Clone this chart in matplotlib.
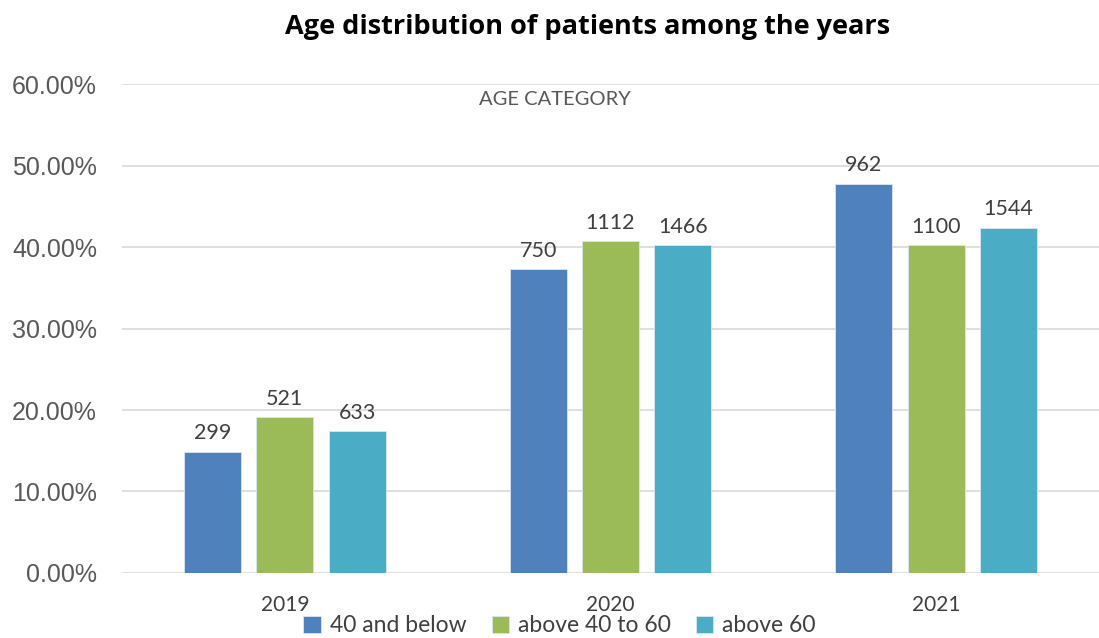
import numpy as np
import matplotlib.pyplot as plt

years = ["2019", "2020", "2021"]
groups = ["40 and below", "above 40 to 60", "above 60"]
# share of each age group per year (%)
pct_below40 = [14.9, 37.3, 47.8]
pct_40to60 = [19.1, 40.7, 40.2]
pct_above60 = [17.4, 40.2, 42.4]
# patient counts shown above the bars
cnt_below40 = [299, 750, 962]
cnt_40to60 = [521, 1112, 1100]
cnt_above60 = [633, 1466, 1544]

colors = ["#4F81BD", "#9BBB59", "#4BACC6"]

fig = plt.figure(figsize=(10.99, 6.38), dpi=100)
ax = fig.add_axes([0.111, 0.102, 0.889, 0.766])

x = np.arange(len(years))
width = 0.175
step = 0.222
series = [(pct_below40, cnt_below40), (pct_40to60, cnt_40to60), (pct_above60, cnt_above60)]
for k, (vals, cnts) in enumerate(series):
    pos = x + (k - 1) * step
    bars = ax.bar(pos, vals, width, color=colors[k], edgecolor="#dce6f2",
                  linewidth=0.6, label=groups[k], zorder=3)
    for b, c in zip(bars, cnts):
        ax.text(b.get_x() + b.get_width() / 2, b.get_height() + 1.0, str(c),
                ha="center", va="bottom", fontsize=15.5, family="Lato",
                color="#404040")

ax.set_xlim(-0.5, 2.5)
ax.set_ylim(0, 60)
ax.set_yticks(np.arange(0, 61, 10))
ax.set_yticklabels(["{:.2f}%".format(v) for v in range(0, 61, 10)],
                   fontsize=18, family="Liberation Sans", color="#595959")
ax.set_xticks(x)
ax.set_xticklabels(years, fontsize=15, family="Lato", color="#404040")
ax.tick_params(axis="both", length=0)
ax.tick_params(axis="x", pad=16)
ax.tick_params(axis="y", pad=18)
ax.yaxis.grid(True, color="#d9d9d9", linewidth=1.2, zorder=0)
for s in ax.spines.values():
    s.set_visible(False)

ax.text(0.83, 59.2, "AGE CATEGORY", ha="center", va="top", fontsize=14.5,
        family="Lato", color="#595959")

fig.text(0.535, 0.958, "Age distribution of patients among the years",
         ha="center", va="center", fontsize=19.5, fontweight="bold",
         family="Open Sans")

ax.legend(loc="lower center", bbox_to_anchor=(0.448, -0.172), ncol=3,
          frameon=False, prop={"family": "Lato", "size": 16.5},
          handlelength=0.75, handleheight=0.75, handletextpad=0.4,
          columnspacing=1.1, labelcolor="#404040")

fig.savefig("out.png", dpi=100)
